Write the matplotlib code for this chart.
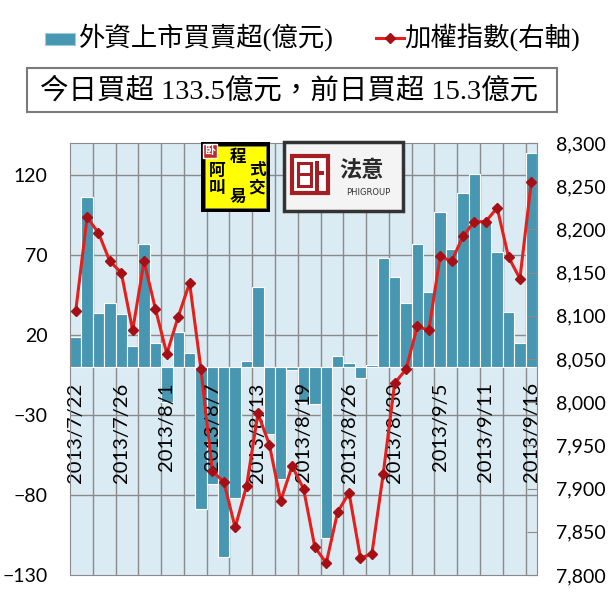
import numpy as np
import matplotlib.pyplot as plt
from matplotlib.patches import Rectangle
from matplotlib.lines import Line2D

# trading days shown on the category axis
dates = ['2013/7/22', '2013/7/23', '2013/7/24', '2013/7/25', '2013/7/26',
         '2013/7/29', '2013/7/30', '2013/7/31', '2013/8/1', '2013/8/2',
         '2013/8/5', '2013/8/6', '2013/8/7', '2013/8/8', '2013/8/9',
         '2013/8/12', '2013/8/13', '2013/8/14', '2013/8/15', '2013/8/16',
         '2013/8/19', '2013/8/20', '2013/8/22', '2013/8/23',
         '2013/8/26', '2013/8/27', '2013/8/28', '2013/8/29', '2013/8/30',
         '2013/9/2', '2013/9/3', '2013/9/4', '2013/9/5', '2013/9/6',
         '2013/9/9', '2013/9/10', '2013/9/11', '2013/9/12', '2013/9/13',
         '2013/9/14', '2013/9/16']

# foreign net buy (100M TWD), left axis
net_buy = [19, 106, 34, 40, 33, 13, 77, 15, -22, 22,
           9, -89, -73, -119, -82, 4, 50, -42, -70, -2,
           -22, -23, -107, 7, 2.5, -7, 1, 68, 56, 40,
           77, 47, 97, 73.5, 109, 120.5, 92, 72, 34.5, 15.3,
           133.5]

# TAIEX close, right axis
taiex = [8105, 8214, 8196, 8163, 8150, 8083, 8163, 8108, 8056, 8099,
         8138, 8038, 7920, 7908, 7855, 7903, 7987, 7951, 7886, 7926,
         7900, 7832, 7814, 7873, 7895, 7820, 7824, 7917, 8022, 8038,
         8088, 8083, 8169, 8163, 8192, 8209, 8209, 8225, 8168, 8143,
         8255]

left_ticks = [-130, -80, -30, 20, 70, 120]
right_ticks = [7800, 7850, 7900, 7950, 8000, 8050, 8100, 8150, 8200, 8250, 8300]

legend_bar = '外資上市買賣超(億元)'
legend_line = '加權指數(右軸)'
summary = '今日買超 133.5億元，前日買超 15.3億元'

W, H = 610, 604
BAR = '#4897b2'
BG = '#dbebf3'
GRID = '#8a8a8a'
RED = '#e3201b'
DKRED = '#a50f15'
CJK = ['Liberation Serif', 'Noto Sans CJK TC', 'DejaVu Sans']

plt.rcParams['font.family'] = ['Lato', 'Noto Sans CJK TC', 'DejaVu Sans']


def fx(px):
    return px / W


def fy(py):
    return 1 - py / H


def box(fig, x0, y0, x1, y1, **kw):
    '''rectangle given in pixel coords (y from top)'''
    r = Rectangle((fx(x0), fy(y1)), fx(x1) - fx(x0), fy(y0) - fy(y1),
                  transform=fig.transFigure, **kw)
    fig.add_artist(r)
    return r


fig = plt.figure(figsize=(6.1, 6.04), dpi=100)

ax = fig.add_axes([fx(70), fy(575), fx(537) - fx(70), fy(143) - fy(575)])
ax.set_facecolor(BG)
# category axis crosses at zero, labels sit inside the plot
ax.spines['bottom'].set_position(('data', 0))
for s in ax.spines.values():
    s.set_color('none')

x = np.arange(len(dates))
ax.bar(x, net_buy, width=1.0, color=BAR, edgecolor='white', linewidth=0.8, zorder=1)
ax.set_xlim(-0.5, len(dates) - 0.5)
ax.set_ylim(-130, 140)

# gridlines under the bars
for v in left_ticks[1:]:
    ax.axhline(v, color=GRID, lw=1, zorder=0.5)
for b in np.arange(1.5, len(dates) - 0.5, 2):
    ax.axvline(b, color=GRID, lw=1, zorder=0.5)

ax.set_yticks(left_ticks)
ax.tick_params(axis='y', length=0, pad=16, labelsize=14)
ax.set_xticks(x[::4])
ax.set_xticklabels(dates[::4], fontfamily='Lato', fontsize=14.5, rotation=90)
ax.tick_params(axis='x', length=0, pad=11)

ax2 = ax.twinx()
ax2.plot(x, taiex, color=RED, lw=2.2, marker='D', ms=5.5, mfc=DKRED, mec=DKRED)
ax2.set_ylim(7800, 8300)
ax2.set_yticks(right_ticks)
ax2.set_yticklabels([f'{v:,}' for v in right_ticks])
ax2.tick_params(axis='y', direction='in', length=7, color=GRID, pad=14, labelsize=14)
for s in ax2.spines.values():
    s.set_color(GRID)

# legend
box(fig, 45, 33, 75, 45, facecolor=BAR, edgecolor='#9ccbd9', lw=0.8)
fig.text(fx(79), fy(37), legend_bar, family=CJK, fontsize=19, va='center', ha='left')
fig.add_artist(Line2D([fx(376), fx(404)], [fy(38), fy(38)], transform=fig.transFigure,
                      color=RED, lw=2.2))
fig.add_artist(Line2D([fx(390)], [fy(38)], transform=fig.transFigure,
                      marker='D', ms=5, color=DKRED, lw=0))
fig.text(fx(404), fy(37), legend_line, family=CJK, fontsize=19, va='center', ha='left')

# summary box
box(fig, 27, 68, 557, 112, facecolor='white', edgecolor='#7a7a7a', lw=1.5)
fig.text(fx(40), fy(91), summary, family=CJK, fontsize=20.5, va='center', ha='left')

# logo 1: yellow box
box(fig, 201, 142, 270, 212, facecolor='black', edgecolor='black', lw=0, zorder=5)
box(fig, 205, 146, 266, 208, facecolor='#ffff00', edgecolor='#777777', lw=0.5, zorder=5)
box(fig, 203, 144, 217, 158, facecolor='#c0262c', edgecolor='white', lw=1, zorder=6)
fig.text(fx(210), fy(151), '卧', family=CJK, fontsize=8, color='white',
         ha='center', va='center', weight='bold', zorder=7)
for ch, px, py in [('程', 238, 158), ('阿', 217, 172), ('式', 257, 171),
                   ('叫', 217, 189), ('交', 257, 188), ('易', 238, 198)]:
    fig.text(fx(px), fy(py), ch, family=CJK, fontsize=12, weight='bold',
             ha='center', va='center', zorder=7)

# logo 2: PHIGROUP
box(fig, 284, 142, 403, 211, facecolor='#f4f4f4', edgecolor='#333333', lw=2.5, zorder=5)
box(fig, 292, 156, 328, 193, facecolor='white', edgecolor='#a31f24', lw=3, zorder=6)
box(fig, 298, 163, 311, 186, facecolor='none', edgecolor='#a31f24', lw=2.2, zorder=6)
box(fig, 298, 173, 311, 176, facecolor='#a31f24', edgecolor='none', zorder=6)
box(fig, 315, 161, 319, 193, facecolor='#a31f24', edgecolor='none', zorder=6)
box(fig, 319, 171, 324, 175, facecolor='#a31f24', edgecolor='none', zorder=6)
fig.text(fx(362), fy(171), '法意', family=CJK, fontsize=16, weight='bold',
         color='#2a2a2a', ha='center', va='center', zorder=7)
fig.text(fx(368), fy(192), 'PHIGROUP', family='Liberation Sans Narrow', fontsize=6,
         color='#333333', ha='center', va='center', zorder=7)

fig.savefig('out.png', dpi=100, facecolor='white')
